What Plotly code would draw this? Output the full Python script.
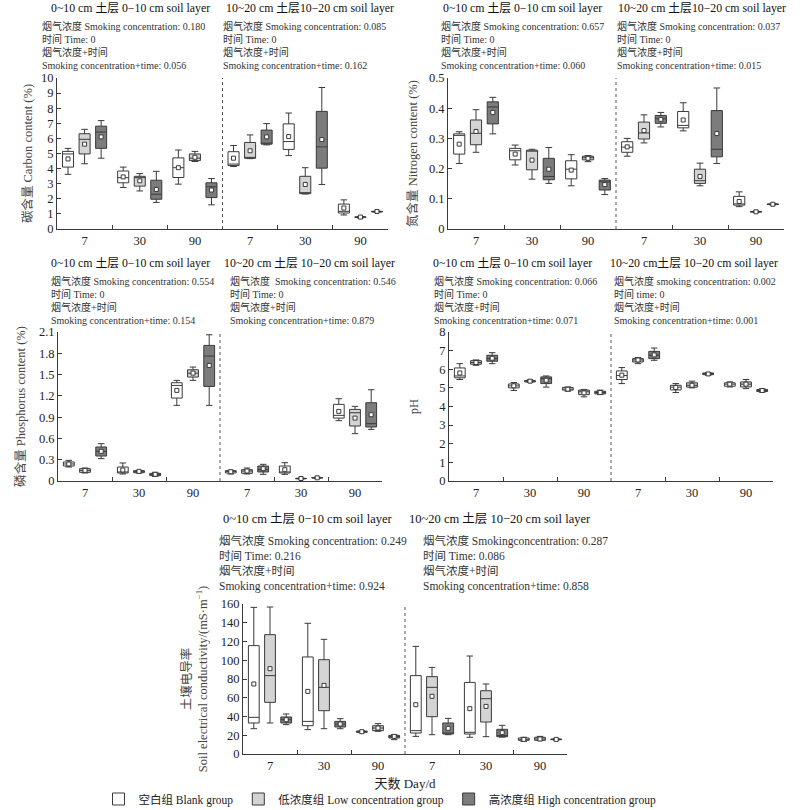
import plotly.graph_objects as go

# ---------------- data ----------------
DAYS = ["7", "30", "90"]
GROUPS = ["空白组 Blank group", "低浓度组 Low concentration group", "高浓度组 High concentration group"]

# each row: (lower whisker, Q1, median, Q3, upper whisker, mean)
# rows: day 7, 30, 90 of 0-10 cm layer, then day 7, 30, 90 of 10-20 cm layer
carbon_blank = [(3.62, 4.10, 4.97, 5.14, 5.34, 4.64), (2.75, 3.06, 3.40, 3.84, 4.10, 3.45),
                (2.97, 3.41, 4.06, 4.71, 5.23, 4.06), (4.14, 4.20, 4.30, 5.12, 5.53, 4.69),
                (4.86, 5.27, 5.79, 6.96, 7.68, 6.12), (0.93, 1.06, 1.17, 1.65, 1.93, 1.39)]
carbon_low = [(4.32, 4.97, 5.94, 6.31, 6.60, 5.62), (2.52, 2.84, 3.40, 3.49, 3.67, 3.19),
              (4.47, 4.53, 4.69, 4.97, 5.14, 4.75), (4.66, 4.68, 4.70, 5.73, 6.23, 5.18),
              (2.32, 2.34, 2.36, 3.49, 4.06, 2.95), (0.74, 0.76, 0.78, 0.81, 0.83, 0.79)]
carbon_high = [(4.69, 5.34, 6.42, 6.81, 7.18, 6.10), (1.76, 1.97, 2.30, 3.23, 3.82, 2.62),
               (1.60, 2.08, 2.80, 3.06, 3.34, 2.58), (5.57, 5.62, 5.66, 6.55, 6.98, 6.10),
               (2.95, 4.03, 5.44, 7.79, 9.37, 5.92), (1.12, 1.13, 1.15, 1.17, 1.19, 1.16)]

nitrogen_blank = [(0.217, 0.248, 0.310, 0.315, 0.322, 0.281), (0.212, 0.229, 0.259, 0.267, 0.278, 0.248),
                  (0.143, 0.166, 0.198, 0.226, 0.246, 0.195), (0.241, 0.254, 0.271, 0.289, 0.300, 0.272),
                  (0.325, 0.335, 0.343, 0.389, 0.418, 0.361), (0.074, 0.079, 0.083, 0.108, 0.123, 0.091)]
nitrogen_low = [(0.254, 0.279, 0.317, 0.361, 0.395, 0.323), (0.165, 0.196, 0.258, 0.261, 0.264, 0.228),
                (0.223, 0.229, 0.236, 0.241, 0.243, 0.234), (0.285, 0.298, 0.318, 0.354, 0.378, 0.326),
                (0.143, 0.151, 0.160, 0.198, 0.218, 0.174), (0.055, 0.056, 0.057, 0.058, 0.059, 0.057)]
nitrogen_high = [(0.315, 0.348, 0.404, 0.421, 0.436, 0.386), (0.151, 0.163, 0.174, 0.234, 0.270, 0.198),
                 (0.114, 0.129, 0.156, 0.162, 0.167, 0.147), (0.338, 0.350, 0.365, 0.376, 0.386, 0.363),
                 (0.217, 0.239, 0.264, 0.392, 0.467, 0.316), (0.080, 0.081, 0.082, 0.083, 0.084, 0.082)]

phos_blank = [(0.197, 0.211, 0.240, 0.268, 0.291, 0.240), (0.099, 0.113, 0.120, 0.197, 0.254, 0.155),
              (1.066, 1.169, 1.347, 1.385, 1.418, 1.277), (0.099, 0.113, 0.136, 0.146, 0.150, 0.131),
              (0.094, 0.113, 0.127, 0.211, 0.258, 0.160), (0.850, 0.887, 0.925, 1.080, 1.160, 0.981)]
phos_low = [(0.113, 0.122, 0.150, 0.174, 0.183, 0.150), (0.113, 0.117, 0.136, 0.146, 0.150, 0.136),
            (1.418, 1.465, 1.520, 1.568, 1.606, 1.521), (0.099, 0.108, 0.141, 0.160, 0.183, 0.141),
            (0.028, 0.031, 0.035, 0.038, 0.042, 0.035), (0.667, 0.775, 0.962, 1.009, 1.052, 0.887)]
phos_high = [(0.315, 0.352, 0.418, 0.479, 0.526, 0.418), (0.066, 0.075, 0.094, 0.108, 0.122, 0.094),
             (1.066, 1.333, 1.761, 1.911, 2.061, 1.629), (0.094, 0.127, 0.160, 0.211, 0.235, 0.174),
             (0.038, 0.041, 0.045, 0.049, 0.053, 0.045), (0.728, 0.761, 0.808, 1.103, 1.286, 0.934)]

ph_blank = [(5.45, 5.54, 5.64, 6.07, 6.30, 5.80), (4.86, 5.00, 5.11, 5.21, 5.29, 5.11),
            (4.82, 4.88, 4.93, 5.02, 5.05, 4.93), (5.23, 5.45, 5.66, 5.91, 6.09, 5.68),
            (4.75, 4.89, 5.04, 5.14, 5.23, 5.02), (5.05, 5.09, 5.20, 5.27, 5.32, 5.20)]
ph_low = [(6.21, 6.27, 6.36, 6.46, 6.50, 6.36), (5.29, 5.32, 5.36, 5.39, 5.43, 5.36),
          (4.52, 4.64, 4.79, 4.88, 4.91, 4.73), (6.30, 6.39, 6.50, 6.57, 6.63, 6.50),
          (5.00, 5.04, 5.14, 5.27, 5.36, 5.14), (4.96, 5.05, 5.20, 5.32, 5.45, 5.20)]
ph_high = [(6.30, 6.43, 6.57, 6.75, 6.89, 6.59), (5.04, 5.23, 5.50, 5.59, 5.64, 5.41),
           (4.64, 4.68, 4.75, 4.82, 4.88, 4.75), (6.48, 6.57, 6.75, 6.96, 7.14, 6.77),
           (5.68, 5.71, 5.75, 5.80, 5.82, 5.75), (4.77, 4.80, 4.86, 4.91, 4.95, 4.86)]

ec_blank = [(27.0, 33.1, 39.1, 115.6, 156.4, 74.7), (26.0, 30.2, 34.8, 103.5, 139.4, 66.8),
            (22.8, 23.1, 23.8, 24.5, 24.9, 23.8), (18.8, 22.4, 24.9, 83.6, 114.8, 52.6),
            (17.8, 21.3, 23.1, 76.4, 104.5, 48.4), (13.5, 14.6, 15.6, 17.1, 17.8, 15.6)]
ec_low = [(33.1, 55.1, 83.6, 127.3, 156.8, 91.0), (27.0, 46.2, 71.1, 100.6, 122.3, 73.2),
          (24.2, 24.9, 27.7, 30.2, 32.4, 27.7), (20.6, 39.8, 71.1, 82.5, 92.4, 61.5),
          (18.5, 34.1, 59.0, 67.5, 74.7, 50.8), (14.2, 14.6, 16.0, 17.8, 18.8, 16.0)]
ec_high = [(31.3, 33.1, 36.6, 39.5, 42.7, 36.6), (27.0, 28.8, 32.0, 34.8, 37.7, 32.0),
           (15.3, 17.1, 18.8, 19.9, 20.6, 18.8), (20.6, 21.3, 22.4, 33.1, 38.0, 27.4),
           (18.0, 18.5, 19.0, 26.3, 30.6, 22.8), (14.9, 15.3, 15.6, 16.0, 16.4, 15.6)]

layer_titles = [
    ["0~10 cm 土层 0−10 cm soil layer", "10~20 cm 土层10−20 cm soil layer"],
    ["0~10 cm 土层 0−10 cm soil layer", "10~20 cm 土层10−20 cm soil layer"],
    ["0~10 cm 土层 0−10 cm soil layer", "10~20 cm 土层 10−20 cm soil layer"],
    ["0~10 cm 土层 0−10 cm soil layer", "10~20 cm土层 10−20 cm soil layer"],
    ["0~10 cm 土层 0−10 cm soil layer", "10~20 cm 土层 10−20 cm soil layer"],
]
stats_texts = [
    [["烟气浓度 Smoking concentration: 0.180", "时间 Time: 0", "烟气浓度+时间", "Smoking concentration+time: 0.056"],
     ["烟气浓度 Smoking concentration: 0.085", "时间 Time: 0", "烟气浓度+时间", "Smoking concentration+time: 0.162"]],
    [["烟气浓度 Smoking concentration: 0.657", "时间 Time: 0", "烟气浓度+时间", "Smoking concentration+time: 0.060"],
     ["烟气浓度 Smoking concentration: 0.037", "时间 Time: 0", "烟气浓度+时间", "Smoking concentration+time: 0.015"]],
    [["烟气浓度 Smoking concentration: 0.554", "时间 Time: 0", "烟气浓度+时间", "Smoking concentration+time: 0.154"],
     ["烟气浓度  Smoking concentration: 0.546", "时间 Time: 0", "烟气浓度+时间", "Smoking concentration+time: 0.879"]],
    [["烟气浓度 Smoking concentration: 0.066", "时间 Time: 0", "烟气浓度+时间", "Smoking concentration+time: 0.071"],
     ["烟气浓度 smoking concentration: 0.002", "时间 time: 0", "烟气浓度+时间", "Smoking concentration+time: 0.001"]],
    [["烟气浓度 Smoking concentration: 0.249", "时间 Time: 0.216", "烟气浓度+时间", "Smoking concentration+time: 0.924"],
     ["烟气浓度 Smokingconcentration: 0.287", "时间 Time: 0.086", "烟气浓度+时间", "Smoking concentration+time: 0.858"]],
]
y_titles = ["碳含量 Carbon content (%)", "氮含量 Nitrogen content (%)", "磷含量 Phosphorus content (%)",
            "pH", "土壤电导率<br>Soil electrical conductivity/(mS·m<sup>−1</sup>)"]
y_ranges = [(0, 10, 1), (0, 0.5, 0.1), (0, 2.1, 0.3), (0, 8, 1), (0, 160, 20)]
x_title = "天数 Day/d"

# ---------------- styling / layout ----------------
W, H = 800, 810
FONT = "Liberation Serif, 'Times New Roman', 'Noto Sans CJK SC', serif"
EDGE = "#3a3a3a"
TEXT = "#222222"
FILLS = ["#ffffff", "#d4d4d4", "#7c7c7c"]
OFFSETS = [-0.3, 0.0, 0.3]


def fx(px):
    return px / W


def fy(px):
    return 1 - px / H


# pixel boxes of each plotting area: (left, right, top, bottom)
areas = [(57, 388, 78, 229), (448, 784, 78, 229), (58, 382, 332, 481), (449, 773, 332, 481), (243, 567, 604, 754)]
# text anchors: (title y, left title cx, right title cx, stats top, left stats x, right stats x, stats size)
text_pos = [(8, 130, 310, 19.5, 41, 222, 10), (8, 522, 702, 19.5, 440, 616, 10),
            (263, 130, 309, 274, 50, 229, 10), (263, 512, 694, 274, 433, 613, 10),
            (519, 307, 500, 532.5, 218, 422, 11.5)]
standoffs = [5, 8, 10, 17, 10]

panel_data = [
    [carbon_blank, carbon_low, carbon_high],
    [nitrogen_blank, nitrogen_low, nitrogen_high],
    [phos_blank, phos_low, phos_high],
    [ph_blank, ph_low, ph_high],
    [ec_blank, ec_low, ec_high],
]

fig = go.Figure()
layout = dict(
    template="none",
    width=W, height=H, margin=dict(l=0, r=0, t=0, b=0, autoexpand=False),
    paper_bgcolor="white", plot_bgcolor="white",
    font=dict(family=FONT, size=12, color=TEXT),
    boxmode="overlay", showlegend=True,
    legend=dict(orientation="h", x=fx(380), xanchor="center", y=fy(799), yanchor="middle",
                font=dict(size=11.5, color=TEXT), itemwidth=30, tracegroupgap=0,
                bgcolor="rgba(0,0,0,0)"),
)
annotations = []
shapes = []
n_groups = len(DAYS) * 2

for pi, groups in enumerate(panel_data):
    sfx = "" if pi == 0 else str(pi + 1)
    xa, ya = "x" + sfx, "y" + sfx
    l, r, t, b = areas[pi]
    for gi, rows in enumerate(groups):
        pos = [k + 1 + OFFSETS[gi] for k in range(len(rows))]
        lf, q1, med, q3, uf, mean = (list(c) for c in zip(*rows))
        fig.add_trace(go.Box(
            x=pos, lowerfence=lf, q1=q1, median=med, q3=q3, upperfence=uf,
            boxmean=False, boxpoints=False, width=0.2, whiskerwidth=0.6,
            fillcolor=FILLS[gi], line=dict(color=EDGE, width=1),
            name=GROUPS[gi], legendgroup=GROUPS[gi], showlegend=(pi == 0),
            xaxis=xa, yaxis=ya))
        fig.add_trace(go.Scatter(
            x=pos, y=mean, mode="markers",
            marker=dict(symbol="square", size=4, color="white", line=dict(color=EDGE, width=1)),
            showlegend=False, hoverinfo="skip", xaxis=xa, yaxis=ya))

    y0, y1, dt = y_ranges[pi]
    layout["xaxis" + sfx] = dict(
        domain=[fx(l), fx(r)], anchor=ya, range=[0.5, n_groups + 0.5], automargin=False,
        tickmode="array", tickvals=list(range(1, n_groups + 1)), ticktext=DAYS * 2,
        ticks="", showline=True, linecolor=EDGE, linewidth=1, showgrid=False, zeroline=False,
        tickfont=dict(size=12.5, color=TEXT),
        minor=dict(tickmode="array", tickvals=[1.5, 2.5, 4.5, 5.5], ticks="inside",
                   ticklen=4, tickcolor=EDGE, tickwidth=1, showgrid=False),
    )
    if pi == 4:
        layout["xaxis" + sfx]["title"] = dict(text=x_title, standoff=6, font=dict(size=13, color=TEXT))
    layout["yaxis" + sfx] = dict(
        domain=[fy(b), fy(t)], anchor=xa, range=[y0, y1], tickmode="linear", tick0=0, dtick=dt,
        automargin=False,
        ticks="inside", ticklen=4, tickcolor=EDGE, showline=True, linecolor=EDGE, linewidth=1,
        showgrid=False, zeroline=False, tickfont=dict(size=12.5, color=TEXT),
        title=dict(text=y_titles[pi], standoff=standoffs[pi], font=dict(size=12.5, color="#444444")),
    )
    # dotted separator between the two soil layers
    shapes.append(dict(type="line", xref=xa, yref=ya + " domain", x0=len(DAYS) + 0.5, x1=len(DAYS) + 0.5,
                       y0=0, y1=1, line=dict(color="#555555", width=1, dash="dot")))

    ty, lcx, rcx, stop, lsx, rsx, ssz = text_pos[pi]
    tsz = 11.8 if pi < 4 else 12.5
    for cx, txt in zip((lcx, rcx), layer_titles[pi]):
        annotations.append(dict(text=txt, xref="paper", yref="paper", x=fx(cx), y=fy(ty),
                                xanchor="center", yanchor="middle", showarrow=False,
                                font=dict(size=tsz, color="#111111")))
    for sx, lines in zip((lsx, rsx), stats_texts[pi]):
        annotations.append(dict(text="<br>".join(lines), xref="paper", yref="paper", x=fx(sx), y=fy(stop),
                                xanchor="left", yanchor="top", align="left", showarrow=False,
                                borderpad=0, font=dict(size=ssz, color="#333333")))

layout["annotations"] = annotations
layout["shapes"] = shapes
fig.update_layout(**layout)
# remove the default page margin so the 800x810 figure fills the window exactly
fig.write_html("out.html",
               config={"displayModeBar": False},
               post_script="document.body.style.margin='0px';document.body.style.padding='0px';"
                           "document.documentElement.style.overflow='hidden';")
